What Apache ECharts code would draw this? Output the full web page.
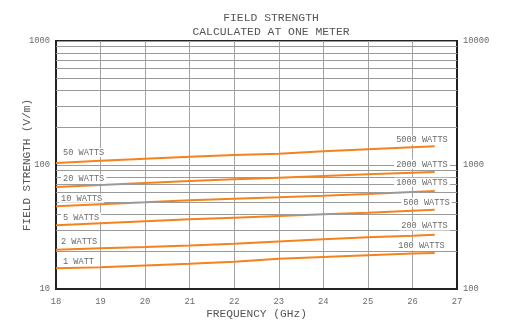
<!DOCTYPE html>
<html>
<head>
<meta charset="utf-8">
<script src="https://cdn.jsdelivr.net/npm/echarts@6/dist/echarts.min.js"></script>
<style>html,body{margin:0;padding:0;background:#fff}#c{width:508px;height:322px}</style>
</head>
<body>
<div id="c"></div>
<script>
const freqs = [18, 19, 20, 21, 22, 23, 24, 25, 26, 26.5];
const line50W = [103.8, 108.3, 112.4, 116.6, 120.4, 123.4, 128.8, 133.9, 139.0, 141.5];
const line20W = [66.5, 69.0, 71.6, 74.3, 76.7, 79.0, 81.5, 84.1, 86.7, 87.8];
const line10W = [46.4, 48.2, 50.0, 51.9, 53.5, 54.9, 56.5, 58.4, 60.6, 61.7];
const line5W  = [32.6, 33.9, 35.2, 36.5, 37.6, 38.8, 40.0, 41.2, 42.8, 43.6];
const line2W  = [20.7, 21.3, 21.8, 22.4, 23.2, 24.2, 25.2, 26.1, 26.9, 27.4];
const line1W  = [14.7, 15.0, 15.5, 16.0, 16.6, 17.5, 18.1, 18.7, 19.3, 19.5];
const leftLabels  = ['50 WATTS', '20 WATTS', '10 WATTS', '5 WATTS', '2 WATTS', '1 WATT'];
const rightLabels = ['5000 WATTS', '2000 WATTS', '1000 WATTS', '500 WATTS', '200 WATTS', '100 WATTS'];
const minorGrid = [20, 30, 40, 50, 60, 70, 80, 90, 200, 300, 400, 500, 600, 700, 800, 900];
const xTicks = [18, 19, 20, 21, 22, 23, 24, 25, 26, 27];

// styling (pixel offsets for annotations)
const leftOffsets  = [[5, -10.5], [5, -8], [3, -8], [5, -8], [3, -7.7], [5, -6.5]];
const rightOffsets = [[15, -6.3], [15, -7.7], [15, -8.7], [17, -7.4], [15, -8.7], [12, -7]];

const lines = [line50W, line20W, line10W, line5W, line2W, line1W];
const FONT = '"Liberation Mono", "Courier New", monospace';
const TXT = '#6b6b6b';
const ORANGE = '#f5821f';

const lblStyle = {
  show: true, position: 'inside', fontFamily: FONT, fontSize: 8.6, color: TXT,
  backgroundColor: '#fff', padding: [0, 2], verticalAlign: 'middle'
};

const series = [{
  type: 'line', data: [], silent: true, z: 1,
  markLine: {
    silent: true, symbol: 'none', animation: false,
    label: { show: false },
    lineStyle: { color: '#9a9a9a', width: 1, type: 'solid' },
    data: minorGrid.map(v => ({ yAxis: v }))
  }
}];
lines.forEach((vals, i) => {
  const last = vals.length - 1;
  series.push({
    type: 'line', z: 3,
    data: freqs.map((f, j) => [f, vals[j]]),
    showSymbol: false, symbol: 'none',
    lineStyle: { color: ORANGE, width: 2 },
    animation: false,
    markPoint: {
      symbol: 'circle', symbolSize: 1, animation: false, silent: true,
      itemStyle: { color: 'rgba(0,0,0,0)' },
      data: [
        { coord: [freqs[0], vals[0]],
          label: Object.assign({}, lblStyle, { offset: leftOffsets[i], align: 'left', formatter: leftLabels[i] }) },
        { coord: [freqs[last], vals[last]],
          label: Object.assign({}, lblStyle, { offset: rightOffsets[i], align: 'right', formatter: rightLabels[i] }) }
      ]
    }
  });
});

const chart = echarts.init(document.getElementById('c'), null, { renderer: 'canvas' });
chart.setOption({
  animation: false,
  backgroundColor: '#fff',
  title: {
    text: 'FIELD STRENGTH\nCALCULATED AT ONE METER',
    left: 266, top: 6, textAlign: 'center',
    textStyle: { fontFamily: FONT, fontSize: 11.4, fontWeight: 'normal', color: '#555', lineHeight: 14 }
  },
  grid: { left: 56, right: 51, top: 41, bottom: 33, containLabel: false, outerBoundsMode: 'none',
    show: true, borderColor: '#222', borderWidth: 2, backgroundColor: 'transparent' },
  xAxis: {
    type: 'value', min: 18, max: 27, interval: 1,
    name: 'FREQUENCY (GHz)', nameLocation: 'middle', nameGap: 20, nameMoveOverlap: false,
    nameTextStyle: { fontFamily: FONT, fontSize: 11.2, color: '#555' },
    axisLine: { show: true, lineStyle: { color: '#222', width: 2 } },
    axisTick: { show: false },
    axisLabel: { fontFamily: FONT, fontSize: 8.8, color: TXT, margin: 8,
      formatter: v => xTicks.indexOf(v) >= 0 ? String(v) : '' },
    splitLine: { show: true, lineStyle: { color: '#a5a5a5', width: 1 } }
  },
  yAxis: [{
    type: 'log', min: 10, max: 1000, logBase: 10, position: 'left',
    name: 'FIELD STRENGTH (V/m)', nameLocation: 'middle', nameGap: 23, nameMoveOverlap: false,
    nameTextStyle: { fontFamily: FONT, fontSize: 11, color: '#555' },
    axisLine: { show: true, lineStyle: { color: '#222', width: 2 } },
    axisTick: { show: false },
    axisLabel: { fontFamily: FONT, fontSize: 8.8, color: TXT, margin: 6, formatter: v => String(Math.round(v)) },
    splitLine: { show: true, lineStyle: { color: '#9a9a9a', width: 1 } }
  }, {
    type: 'log', min: 100, max: 10000, logBase: 10, position: 'right',
    axisLine: { show: true, lineStyle: { color: '#222', width: 2 } },
    axisTick: { show: false },
    axisLabel: { fontFamily: FONT, fontSize: 8.8, color: TXT, margin: 6, formatter: v => String(Math.round(v)) },
    splitLine: { show: false }
  }],
  series: series
});
</script>
</body>
</html>
